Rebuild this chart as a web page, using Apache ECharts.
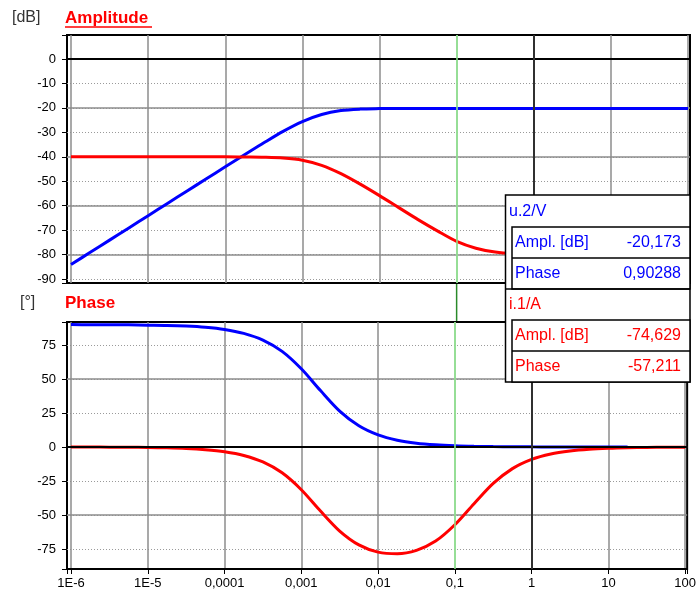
<!DOCTYPE html>
<html><head><meta charset="utf-8">
<script src="https://cdn.jsdelivr.net/npm/echarts@6/dist/echarts.min.js"></script>
<style>html,body{margin:0;padding:0;background:#fff;}#c{width:699px;height:597px;}</style>
</head><body><div id="c"></div>
<script>
// ---- data ----
const frequency = [1e-6, 1.778e-6, 3.162e-6, 5.623e-6, 1e-5, 1.778e-5, 3.162e-5, 5.623e-5,
  1e-4, 1.778e-4, 3.162e-4, 5.623e-4, 1e-3, 1.778e-3, 3.162e-3, 5.623e-3,
  0.01, 0.01778, 0.03162, 0.05623, 0.1, 0.1778, 0.3162, 0.5623,
  1, 1.778, 3.162, 5.623, 10, 17.78, 31.62, 56.23, 100];
const amplU2 = [-84.1, -79.1, -74.1, -69.1, -64.1, -59.1, -54.1, -49.1,
  -44.1, -39.2, -34.3, -29.6, -25.6, -22.7, -21.1, -20.5,
  -20.3, -20.2, -20.2, -20.2, -20.2, -20.2, -20.2, -20.2,
  -20.2, -20.2, -20.2, -20.2, -20.2, -20.2, -20.2, -20.2, -20.2];
const amplI1 = [-40.0, -40.0, -40.0, -40.0, -40.0, -40.0, -40.0, -40.0,
  -40.0, -40.1, -40.2, -40.5, -41.4, -43.5, -46.9, -51.2,
  -55.9, -60.8, -65.7, -70.3, -74.6, -77.4, -79.0, -79.7,
  -79.9, -80.0, -80.0, -80.0, -80.0, -80.0, -80.0, -80.0, -80.0];
const phaseU2 = [90.0, 89.9, 89.9, 89.8, 89.6, 89.4, 88.9, 88.0,
  86.4, 83.5, 78.6, 70.3, 57.5, 41.5, 26.4, 15.6,
  8.9, 5.0, 2.8, 1.6, 0.9, 0.5, 0.3, 0.2,
  0.1, 0.05, 0.03, 0.02, 0.01, 0.0, null, null, null];
const phaseI1 = [-0.04, -0.06, -0.11, -0.2, -0.35, -0.62, -1.1, -2.0,
  -3.5, -6.2, -11.0, -19.0, -31.4, -47.1, -61.8, -72.0,
  -77.3, -78.5, -76.0, -69.2, -57.2, -41.7, -26.8, -15.9,
  -9.1, -5.1, -2.9, -1.6, -0.9, -0.5, -0.3, -0.2, -0.1];
const xTickLabels = ['1E-6', '1E-5', '0,0001', '0,001', '0,01', '0,1', '1', '10', '100'];
const cursorFreq = 0.1;
const readoutSignals = ['u.2/V', 'i.1/A'];
const readoutAmpl = ['-20,173', '-74,629'];
const readoutPhase = ['0,90288', '-57,211'];
const readoutNames = ['Ampl. [dB]', 'Phase'];

// ---- chart ----
const FONT = '"Liberation Sans", Arial, sans-serif';
const BLUE = '#0000ff', RED = '#ff0000';
const xMin = Math.pow(10, -6.052), xMax = Math.pow(10, 2.026);
const ampExt = [-91.64, 9.82], phExt = [-89.7, 91.9];

function xFmt(v) {
  const e = Math.log10(v), r = Math.round(e);
  if (Math.abs(e - r) > 1e-6) return '';
  const s = xTickLabels[r + 6];
  return s === undefined ? '' : s;
}
function stepFmt(step) {
  return function (v) {
    const q = v / step;
    return Math.abs(q - Math.round(q)) < 1e-6 ? String(Math.round(v)) : '';
  };
}
function xAxisCfg(gi, labels) {
  return {
    type: 'log', logBase: 10, gridIndex: gi, min: xMin, max: xMax,
    axisLine: { show: labels, onZero: false, lineStyle: { color: '#000', width: 2 } },
    axisTick: { show: labels, length: 5, lineStyle: { color: '#000', width: 1 } },
    axisLabel: { show: labels, formatter: xFmt, color: '#000', fontSize: 13, fontFamily: FONT, margin: 8 },
    splitLine: { show: true, showMinLine: false, showMaxLine: false, lineStyle: { color: '#8c8c8c', width: 1.5 } }
  };
}
function yAxisCfg(gi, ext, step) {
  return {
    type: 'value', gridIndex: gi, min: ext[0], max: ext[1], minInterval: step, maxInterval: step,
    position: 'left',
    axisLine: { show: false },
    axisTick: { show: true, length: 5, lineStyle: { color: '#000', width: 1 } },
    axisLabel: { formatter: stepFmt(step), color: '#000', fontSize: 13, fontFamily: FONT, margin: 11 },
    splitLine: { show: true, showMinLine: false, showMaxLine: false, lineStyle: { color: '#9a9a9a', width: 1, type: [1, 2] } }
  };
}
function ySolidCfg(gi, ext, step) {
  return {
    type: 'value', gridIndex: gi, min: ext[0], max: ext[1], minInterval: step, maxInterval: step,
    position: 'left',
    axisLine: { show: false }, axisTick: { show: false }, axisLabel: { show: false },
    splitLine: { show: true, showMinLine: false, showMaxLine: false, lineStyle: { color: '#8c8c8c', width: 1.5, type: 'solid' } }
  };
}
function refSeries(xi, yi) {
  return {
    type: 'line', xAxisIndex: xi, yAxisIndex: yi, data: [], silent: true, z: 1,
    markLine: {
      symbol: 'none', silent: true, animation: false, label: { show: false },
      data: [
        { yAxis: 0, lineStyle: { color: '#000', width: 2, type: 'solid' } },
        { xAxis: 1, lineStyle: { color: '#303030', width: 2, type: 'solid' } },
        { xAxis: cursorFreq, lineStyle: { color: '#90f090', width: 1.5, type: 'solid' } }
      ]
    }
  };
}
function curve(xi, yi, vals, color) {
  const d = [];
  frequency.forEach((f, i) => { if (vals[i] !== null) d.push([f, vals[i]]); });
  return {
    type: 'line', xAxisIndex: xi, yAxisIndex: yi, data: d, showSymbol: false, symbol: 'none',
    smooth: 0.3, z: 3, lineStyle: { color: color, width: 3 }, itemStyle: { color: color }
  };
}

const graphics = [];
function txt(x, y, s, color, font, align) {
  graphics.push({ type: 'text', x: x, y: y, z: 101,
    style: { text: s, fill: color, font: font, align: align || 'left', verticalAlign: 'middle' } });
}
function hline(x1, x2, y, color, w, z) {
  graphics.push({ type: 'line', z: z || 101, shape: { x1: x1, y1: y, x2: x2, y2: y }, style: { stroke: color, lineWidth: w } });
}
// titles
txt(12, 18, '[dB]', '#333', '16px ' + FONT);
txt(65, 18, 'Amplitude', RED, 'bold 17px ' + FONT);
hline(65, 152, 27, RED, 1.5);
txt(20, 303, '[°]', '#333', '16px ' + FONT);
txt(65, 303, 'Phase', RED, 'bold 17px ' + FONT);
// readout box
graphics.push({ type: 'rect', z: 100, shape: { x: 505.5, y: 195, width: 184.5, height: 187 }, style: { fill: '#fff', stroke: '#000', lineWidth: 1.5 } });
const boxTops = [195, 288];
const boxColors = [BLUE, RED];
for (let k = 0; k < 2; k++) {
  const t = boxTops[k];
  txt(509, t + 17, readoutSignals[k], boxColors[k], '16px ' + FONT);
  graphics.push({ type: 'rect', z: 100, shape: { x: 512, y: t + 32, width: 178, height: 62 }, style: { fill: '#fff', stroke: '#000', lineWidth: 1.5 } });
  hline(512, 690, t + 63, '#000', 1.5, 101);
  txt(515, t + 47.5, readoutNames[0], boxColors[k], '16px ' + FONT);
  txt(681, t + 47.5, readoutAmpl[k], boxColors[k], '16px ' + FONT, 'right');
  txt(515, t + 78.5, readoutNames[1], boxColors[k], '16px ' + FONT);
  txt(681, t + 78.5, readoutPhase[k], boxColors[k], '16px ' + FONT, 'right');
}
hline(505.5, 690, 289, '#000', 1.5, 101);

const option = {
  animation: false,
  backgroundColor: '#fff',
  grid: [
    { left: 67, right: 9, top: 35, height: 248, show: true, borderColor: '#000', borderWidth: 2 },
    { left: 67, right: 9, top: 322, height: 247, show: true, borderColor: '#000', borderWidth: 2 }
  ],
  xAxis: [xAxisCfg(0, false), xAxisCfg(1, true)],
  yAxis: [yAxisCfg(0, ampExt, 10), ySolidCfg(0, ampExt, 20), yAxisCfg(1, phExt, 25), ySolidCfg(1, phExt, 50)],
  series: [
    refSeries(0, 0), refSeries(1, 2),
    curve(0, 0, amplU2, BLUE), curve(0, 0, amplI1, RED),
    curve(1, 2, phaseU2, BLUE), curve(1, 2, phaseI1, RED)
  ],
  graphic: { elements: graphics }
};
const chart = echarts.init(document.getElementById('c'), null, { renderer: 'canvas' });
chart.setOption(option);
// cursor line between the two plots
const cx = chart.convertToPixel({ xAxisIndex: 0 }, cursorFreq);
graphics.push({ type: 'line', z: 50, shape: { x1: cx, y1: 284, x2: cx, y2: 321 }, style: { stroke: '#2a8a2a', lineWidth: 1.5 } });
chart.setOption({ graphic: { elements: graphics } });
</script></body></html>
